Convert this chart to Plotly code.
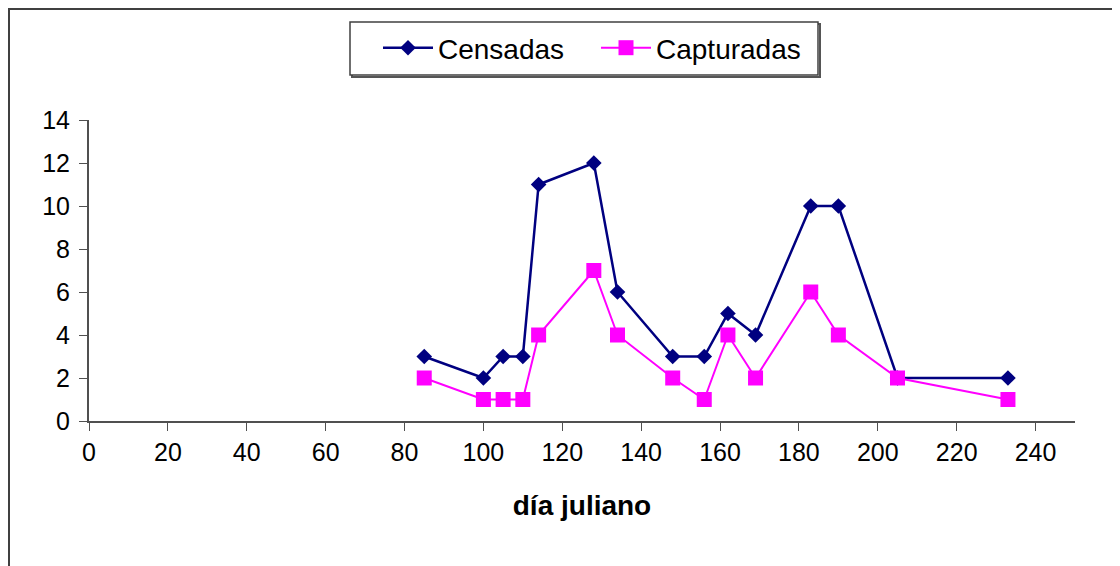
import plotly.graph_objects as go

dias = [85, 100, 105, 110, 114, 128, 134, 148, 156, 162, 169, 183, 190, 205, 233]
censadas = [3, 2, 3, 3, 11, 12, 6, 3, 3, 5, 4, 10, 10, 2, 2]
capturadas = [2, 1, 1, 1, 4, 7, 4, 2, 1, 4, 2, 6, 4, 2, 1]
x_ticks = list(range(0, 241, 20))
y_ticks = list(range(0, 15, 2))

OFF = 8  # page body margin
W, H = 1120, 566
L, T = 89 - OFF, 120 - OFF
R = W - (1075 - OFF)
B = H - (421 - OFF)
pw, ph = W - L - R, H - T - B

def px(x):
    return (x - OFF - L) / pw

def py(y):
    return (H - B - (y - OFF)) / ph

fig = go.Figure()
fig.add_trace(go.Scatter(x=dias, y=censadas, name="Censadas", mode="lines+markers",
                         line=dict(color="#000080", width=2.5),
                         marker=dict(symbol="diamond", size=12, color="#000080")))
fig.add_trace(go.Scatter(x=dias, y=capturadas, name="Capturadas", mode="lines+markers",
                         line=dict(color="#FF00FF", width=2),
                         marker=dict(symbol="square", size=15, color="#FF00FF")))

font = "Liberation Sans, Arial, sans-serif"
fig.update_layout(
    width=W, height=H,
    margin=dict(l=L, r=R, t=T, b=B),
    paper_bgcolor="white", plot_bgcolor="white",
    font=dict(family=font, size=25, color="black"),
    showlegend=True,
    legend=dict(orientation="h", x=px(378), xanchor="left", y=py(48), yanchor="middle",
                bgcolor="rgba(0,0,0,0)", borderwidth=0, font=dict(size=28),
                itemwidth=50, tracegroupgap=0, entrywidth=153, entrywidthmode="pixels"),
    xaxis=dict(range=[0, 250], tickvals=x_ticks, ticks="outside", ticklen=8,
               tickcolor="#505050", showline=True, linecolor="#505050", linewidth=2,
               showgrid=False, zeroline=False, tickfont=dict(size=25),
               title=dict(text="<b>día juliano</b>", font=dict(size=28), standoff=30)),
    yaxis=dict(range=[0, 14], tickvals=y_ticks, ticks="outside", ticklen=8,
               tickcolor="#505050", showline=True, linecolor="#505050", linewidth=2,
               showgrid=False, zeroline=False, tickfont=dict(size=25),
               ticklabelstandoff=4),
    shapes=[
        dict(type="rect", xref="paper", yref="paper", x0=px(9), x1=px(1140), y0=py(9), y1=py(590),
             line=dict(color="#404040", width=2), fillcolor="rgba(0,0,0,0)", layer="below"),
        dict(type="rect", xref="paper", yref="paper", x0=px(352), x1=px(820), y0=py(24), y1=py(77),
             line=dict(color="#555555", width=2), fillcolor="rgba(0,0,0,0)"),
        dict(type="rect", xref="paper", yref="paper", x0=px(350), x1=px(818), y0=py(22), y1=py(75),
             line=dict(color="#404040", width=1.5), fillcolor="white"),
    ],
)

fig.write_html("out.html")
